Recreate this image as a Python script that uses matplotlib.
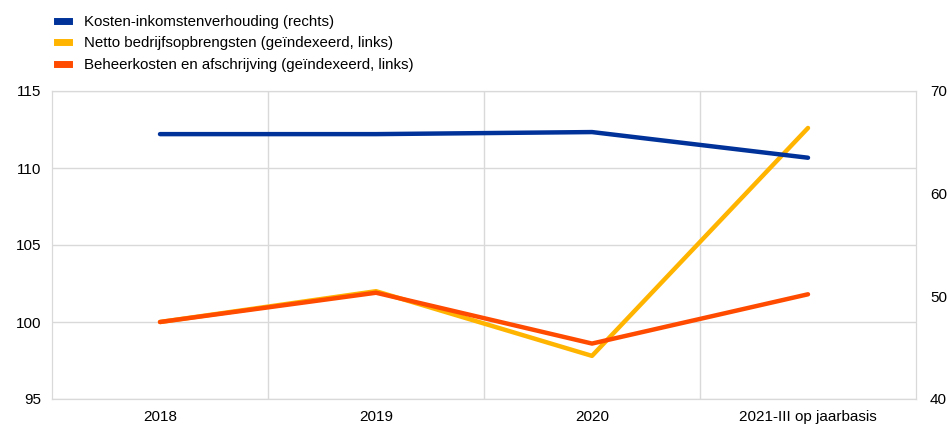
import matplotlib.pyplot as plt
from matplotlib.lines import Line2D

plt.rcParams["font.family"] = ["Liberation Sans", "DejaVu Sans"]

categories = ["2018", "2019", "2020", "2021-III op jaarbasis"]
cost_income = [65.8, 65.8, 66.0, 63.5]
net_income = [100.0, 102.0, 97.8, 112.6]
op_costs = [100.0, 101.9, 98.6, 101.8]

labels = [
    "Kosten-inkomstenverhouding (rechts)",
    "Netto bedrijfsopbrengsten (geïndexeerd, links)",
    "Beheerkosten en afschrijving (geïndexeerd, links)",
]
colors = ["#003299", "#FFB400", "#FF4B00"]

fig = plt.figure(figsize=(9.47, 4.26), dpi=100)
ax = fig.add_axes([52 / 947, 1 - 399 / 426, (916 - 52) / 947, (399 - 91) / 426])
ax2 = ax.twinx()

x = list(range(len(categories)))

ax.plot(x, net_income, color=colors[1], linewidth=3.2, solid_capstyle="round", zorder=3)
ax.plot(x, op_costs, color=colors[2], linewidth=3.2, solid_capstyle="round", zorder=4)
ax2.plot(x, cost_income, color=colors[0], linewidth=3.2, solid_capstyle="round")

ax.set_xlim(-0.5, len(categories) - 0.5)
ax.set_ylim(95, 115)
ax.set_yticks([95, 100, 105, 110, 115])
ax2.set_ylim(40, 70)
ax2.set_yticks([40, 50, 60, 70])

ax.set_xticks(x)
ax.set_xticklabels(categories)
ax.set_xticks([0.5, 1.5, 2.5], minor=True)
ax.grid(True, axis="y", color="#d9d9d9", linewidth=1)
ax.grid(True, axis="x", which="minor", color="#d9d9d9", linewidth=1)
ax.set_axisbelow(True)

for a in (ax, ax2):
    for s in a.spines.values():
        s.set_color("#d9d9d9")
    a.tick_params(length=0, labelsize=11, colors="#000000", pad=8)
ax.tick_params(axis="x", which="both", length=0, pad=8)
ax2.tick_params(axis="y", pad=10)

handles = [Line2D([0], [0], color=c, linewidth=5) for c in colors]
fig.legend(handles, labels, loc="upper left", bbox_to_anchor=(48 / 947, 1 - 6 / 426),
           frameon=False, fontsize=10.8, handlelength=0.8, handletextpad=1.0,
           labelspacing=0.5, borderaxespad=0.2)

fig.savefig("out.png", dpi=100)
